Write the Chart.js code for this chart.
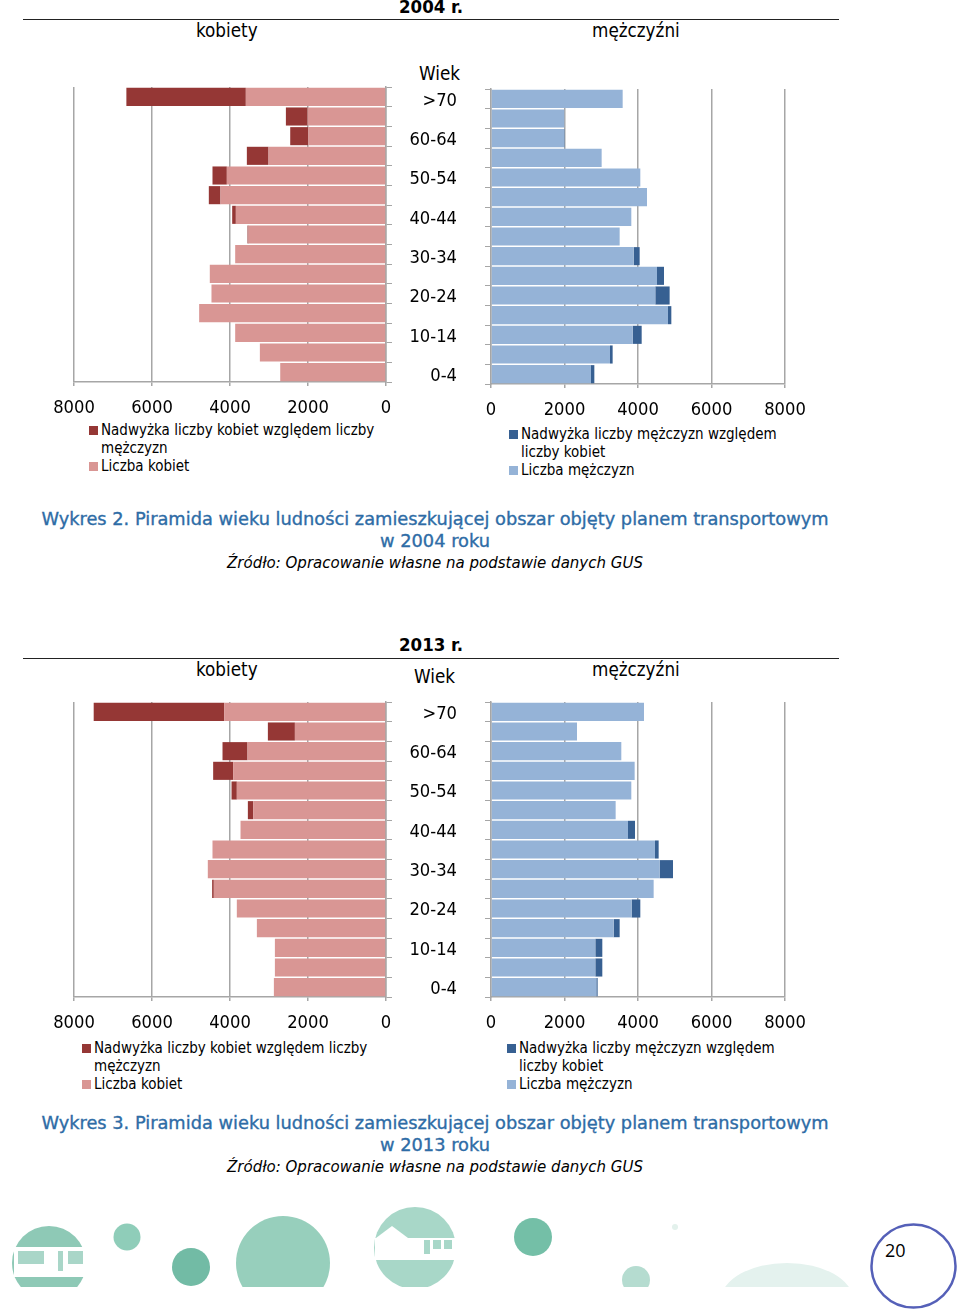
<!DOCTYPE html>
<html lang="pl">
<head>
<meta charset="utf-8">
<title>Piramida wieku</title>
<script src="https://cdn.jsdelivr.net/npm/chart.js@4"></script>
<style>
html, body { margin: 0; padding: 0; background: #fff; }
body { position: relative; width: 960px; height: 1311px; overflow: hidden; font-family: "DejaVu Sans Condensed", "DejaVu Sans", sans-serif; color: #000; }
canvas { position: absolute; }
.txt { position: absolute; white-space: nowrap; line-height: 1; }
.rule { position: absolute; left: 23px; width: 816px; height: 1px; background: #222; }
.head { font-size: 18.7px; }
.year { font-size: 18.5px; font-weight: bold; }
.cap { font-family: "DejaVu Sans", sans-serif; font-size: 17.8px; -webkit-text-stroke: 0.35px #2e6ca6; color: #2e6ca6; width: 960px; left: -45px; text-align: center; }
.src { font-size: 16.7px; font-style: italic; width: 960px; left: -45px; text-align: center; }
.legend { position: absolute; font-size: 15px; line-height: 18px; }
.legend div { position: relative; padding-left: 12px; }
.legend i { position: absolute; left: 0; top: 5px; width: 9px; height: 9px; }
#deco { position: absolute; left: 0; top: 0; }
</style>
</head>
<body>
<svg id="deco" width="960" height="1311">
  <defs><clipPath id="cut"><rect x="0" y="1190" width="860" height="97"/></clipPath></defs>
  <g clip-path="url(#cut)">
    <circle cx="49" cy="1263" r="37" fill="#8ec9b6"/>
    <rect x="14" y="1247" width="72" height="30" fill="#fff"/>
    <rect x="18" y="1251" width="26" height="13" fill="#a9d6c8"/>
    <rect x="58" y="1251" width="5" height="20" fill="#a9d6c8"/>
    <rect x="68" y="1251" width="15" height="13" fill="#a9d6c8"/>
    <circle cx="127" cy="1237" r="13.5" fill="#8fcdb9"/>
    <circle cx="191" cy="1267" r="19" fill="#72bba5"/>
    <ellipse cx="283" cy="1263" rx="47" ry="47" fill="#97cfbc"/>
    <circle cx="415" cy="1248" r="41" fill="#a8d7c8"/>
    <rect x="375" y="1238" width="82" height="22" fill="#fff"/>
    <polygon points="376,1238 392,1226 408,1238" fill="#fff"/>
    <rect x="424" y="1240" width="6" height="14" fill="#a8d7c8"/>
    <rect x="433" y="1240" width="8" height="9" fill="#a8d7c8"/>
    <rect x="444" y="1240" width="8" height="9" fill="#a8d7c8"/>
    <circle cx="533" cy="1237" r="19" fill="#74bfa7"/>
    <circle cx="675" cy="1227" r="3" fill="#e3f1ec"/>
    <circle cx="636" cy="1280" r="14" fill="#b5dcd0"/>
    <ellipse cx="787" cy="1300" rx="66" ry="37" fill="#e4f2ee"/>
  </g>
  <ellipse cx="913.5" cy="1266" rx="42" ry="41.5" fill="none" stroke="#5560b8" stroke-width="2.5"/>
</svg>

<div class="txt year" style="left:399px;top:-2px">2004 r.</div>
<div class="rule" style="top:19px"></div>
<div class="txt head" style="left:196px;top:22px">kobiety</div>
<div class="txt head" style="left:592px;top:22px">mężczyźni</div>
<div class="txt head" style="left:419px;top:65px">Wiek</div>

<div class="txt cap" style="top:510px">Wykres 2. Piramida wieku ludności zamieszkującej obszar objęty planem transportowym</div>
<div class="txt cap" style="top:532px">w 2004 roku</div>
<div class="txt src" style="top:554px">Źródło: Opracowanie własne na podstawie danych GUS</div>

<div class="txt year" style="left:399px;top:636px">2013 r.</div>
<div class="rule" style="top:658px"></div>
<div class="txt head" style="left:196px;top:661px">kobiety</div>
<div class="txt head" style="left:592px;top:661px">mężczyźni</div>
<div style="position:absolute;left:414px;top:666px;width:50px;height:17px;overflow:hidden"><div class="txt head" style="left:0;top:2px">Wiek</div></div>

<div class="txt cap" style="top:1114px">Wykres 3. Piramida wieku ludności zamieszkującej obszar objęty planem transportowym</div>
<div class="txt cap" style="top:1136px">w 2013 roku</div>
<div class="txt src" style="top:1158px">Źródło: Opracowanie własne na podstawie danych GUS</div>

<div class="txt" style="left:885px;top:1241px;font-family:'Open Sans';font-size:18px">20</div>

<canvas id="women2004" style="left:30px;top:70px;width:427px;height:350px"></canvas>
<canvas id="men2004" style="left:470px;top:70px;width:350px;height:350px"></canvas>
<canvas id="women2013" style="left:30px;top:685px;width:427px;height:350px"></canvas>
<canvas id="men2013" style="left:470px;top:685px;width:350px;height:350px"></canvas>

<div id="legendW2004" class="legend" style="left:89px;top:421px;width:300px"></div>
<div id="legendM2004" class="legend" style="left:509px;top:425px;width:290px"></div>
<div id="legendW2013" class="legend" style="left:82px;top:1039px;width:300px"></div>
<div id="legendM2013" class="legend" style="left:507px;top:1039px;width:290px"></div>

<script>
const ageGroups = ['>70', '65-69', '60-64', '55-59', '50-54', '45-49', '40-44', '35-39', '30-34', '25-29', '20-24', '15-19', '10-14', '5-9', '0-4'];
const xTicks = [0, 2000, 4000, 6000, 8000];

const women2004 = [3594, 2011, 1994, 3012, 4081, 4244, 3850, 3525, 3867, 4518, 4475, 4791, 3867, 3234, 2712];
const womenExcess2004 = [3063, 556, 462, 556, 368, 299, 94, 26, 0, 0, 0, 0, 0, 0, 0];
const men2004 = [3583, 1995, 1995, 3011, 4063, 4245, 3818, 3501, 3882, 4517, 4471, 4816, 3855, 3238, 2721];
const menExcess2004 = [0, 0, 10, 0, 0, 0, 0, 0, 163, 190, 390, 91, 245, 72, 91];

const women2013 = [4150, 2336, 3551, 3919, 3825, 3405, 3730, 4449, 4569, 4415, 3825, 3311, 2849, 2849, 2875];
const womenExcess2013 = [3345, 693, 641, 513, 136, 137, 0, 0, 0, 43, 0, 0, 0, 0, 0];
const men2013 = [4163, 2340, 3546, 3909, 3818, 3392, 3728, 4462, 4589, 4426, 3827, 3338, 2839, 2839, 2866];
const menExcess2013 = [0, 0, 0, 0, 0, 0, 190, 100, 363, 0, 236, 163, 190, 190, 36];

const labelWomen = 'Liczba kobiet';
const labelMen = 'Liczba mężczyzn';
const labelWomenExcess = 'Nadwyżka liczby kobiet względem liczby mężczyzn';
const labelMenExcess = 'Nadwyżka liczby mężczyzn względem liczby kobiet';

const GREY = '#a6a6a6';
const FONT = '"DejaVu Sans Condensed", "DejaVu Sans", sans-serif';
const PLOT_H = 295;

function initPyramid(id, base, excess, baseLabel, excessLabel, baseColor, excessColor, left, top, labelShift) {
    const el = document.getElementById(id);
    const women = baseColor === '#d99694';
    const w = parseFloat(el.style.width);
    const h = parseFloat(el.style.height);
    const plotW = women ? 312 : 294;

    return new Chart(el, {
        type: 'bar',
        data: {
            labels: ageGroups,
            datasets: [
                { label: baseLabel, data: base, backgroundColor: baseColor },
                { label: excessLabel, data: excess, backgroundColor: excessColor }
            ]
        },
        options: {
            indexAxis: 'y',
            responsive: false,
            animation: false,
            layout: {
                padding: {
                    left: women ? left : 0,
                    top: top,
                    right: women ? 0 : w - left - plotW,
                    bottom: 0
                }
            },
            plugins: {
                legend: { display: false },
                tooltip: { enabled: false }
            },
            datasets: { bar: { barPercentage: 0.92, categoryPercentage: 1 } },
            scales: {
                x: {
                    stacked: true,
                    reverse: women,
                    min: 0,
                    max: 8000,
                    afterFit(scale) { scale.height = h - top - PLOT_H; },
                    afterBuildTicks(scale) { scale.ticks = xTicks.map(v => ({ value: v })); },
                    border: { color: GREY, width: 1.5 },
                    grid: { color: GREY, lineWidth: 1.5, tickLength: 4 },
                    ticks: {
                        color: '#000',
                        padding: 11,
                        maxRotation: 0,
                        font: { family: FONT, size: 18.2 },
                        callback(value) { return String(value); }
                    }
                },
                y: {
                    stacked: true,
                    position: women ? 'right' : 'left',
                    afterFit(scale) {
                        scale.width = women ? w - left - plotW : left;
                        scale.paddingTop = 0;
                        scale.paddingBottom = 0;
                    },
                    border: { color: GREY, width: 1.5 },
                    grid: { drawOnChartArea: false, color: GREY, lineWidth: 1, tickLength: 6 },
                    ticks: women ? {
                        color: '#000',
                        padding: 18,
                        autoSkip: false,
                        crossAlign: 'far',
                        labelOffset: labelShift,
                        font: { family: FONT, size: 18.2 },
                        callback(value, index) { return index % 2 === 0 ? ageGroups[index] : ''; }
                    } : { display: false }
                }
            }
        }
    });
}

function fillLegend(id, excessLabel, baseLabel, excessColor, baseColor) {
    const box = document.getElementById(id);
    [[excessLabel, excessColor], [baseLabel, baseColor]].forEach(([text, color]) => {
        const row = document.createElement('div');
        const mark = document.createElement('i');
        mark.style.background = color;
        row.appendChild(mark);
        row.appendChild(document.createTextNode(text));
        box.appendChild(row);
    });
}

document.addEventListener('DOMContentLoaded', () => {
    const RED = '#d99694', DARK_RED = '#953735', BLUE = '#95b3d7', DARK_BLUE = '#376092';

    initPyramid('women2004', women2004, womenExcess2004, labelWomen, labelWomenExcess, RED, DARK_RED, 44, 17, 4);
    initPyramid('men2004', men2004, menExcess2004, labelMen, labelMenExcess, BLUE, DARK_BLUE, 21, 19, 0);
    initPyramid('women2013', women2013, womenExcess2013, labelWomen, labelWomenExcess, RED, DARK_RED, 44, 17, 2);
    initPyramid('men2013', men2013, menExcess2013, labelMen, labelMenExcess, BLUE, DARK_BLUE, 21, 17, 0);

    fillLegend('legendW2004', labelWomenExcess, labelWomen, DARK_RED, RED);
    fillLegend('legendM2004', labelMenExcess, labelMen, DARK_BLUE, BLUE);
    fillLegend('legendW2013', labelWomenExcess, labelWomen, DARK_RED, RED);
    fillLegend('legendM2013', labelMenExcess, labelMen, DARK_BLUE, BLUE);
});
</script>
</body>
</html>
